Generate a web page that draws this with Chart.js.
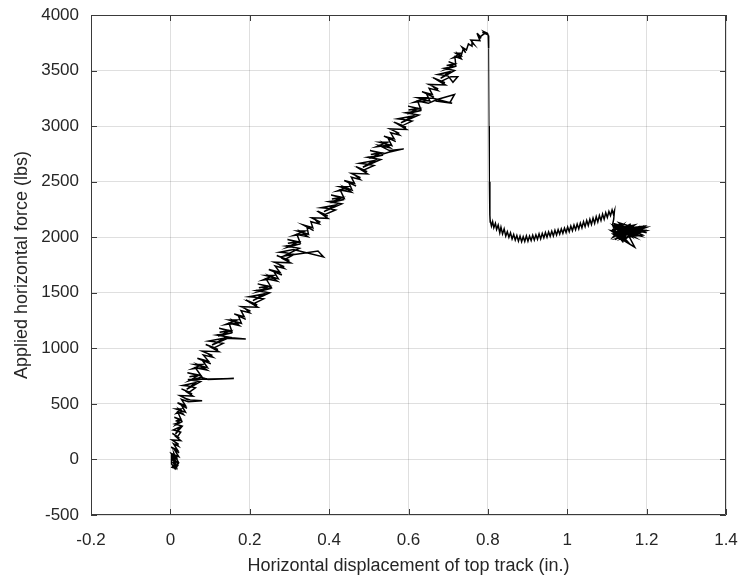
<!DOCTYPE html>
<html>
<head>
<meta charset="utf-8">
<script src="https://cdn.jsdelivr.net/npm/chart.js@4"></script>
<style>
  html, body { margin: 0; padding: 0; background: #fff; }
  #wrap { width: 743px; height: 586px; }
</style>
</head>
<body>
<div id="wrap"><canvas id="force"></canvas></div>
<script>
// tick values / labels
const xTicks = [-0.2, 0, 0.2, 0.4, 0.6, 0.8, 1.0, 1.2, 1.4];
const xTickLabels = ['-0.2', '0', '0.2', '0.4', '0.6', '0.8', '1', '1.2', '1.4'];
const yTicks = [-500, 0, 500, 1000, 1500, 2000, 2500, 3000, 3500, 4000];

// blob at the origin
const startX = [0.006,0.013,0.019,0.016,0.004,0.003,0.012,0.021,0.011,0.005,0.015,0.009,0.018,0.004,0.014,0.008];
const startY = [-20,-75,-55,25,45,-40,-85,-30,35,5,-60,55,-10,-70,-80,20];

// loading ramp (noisy), one line per ~100 lbs
const rampX = [
  0.002,0.021,0.009,0.022,0.002,0.018,0.008,0.020,0.013,
  0.021,0.004,0.026,0.011,0.023,0.005,0.018,0.026,0.013,
  0.007,0.023,0.013,0.030,0.011,0.030,0.013,0.024,0.013,
  0.025,0.010,0.028,0.019,0.033,0.023,0.032,0.015,0.027,
  0.014,0.038,0.027,0.042,0.018,0.038,0.028,0.045,0.080,0.050,0.036,
  0.046,0.024,0.057,0.038,0.055,0.028,0.048,0.063,0.045,
  0.031,0.063,0.041,0.076,0.044,0.160,0.095,0.078,0.048,0.070,0.048,
  0.071,0.043,0.078,0.063,0.092,0.072,0.088,0.055,0.081,
  0.061,0.094,0.080,0.102,0.068,0.096,0.083,0.107,0.095,
  0.106,0.080,0.122,0.099,0.120,0.089,0.111,0.133,0.111,
  0.097,0.134,0.190,0.140,0.105,0.150,0.117,0.156,0.120,0.148,0.124,
  0.149,0.123,0.155,0.148,0.174,0.159,0.173,0.139,0.168,
  0.148,0.179,0.171,0.190,0.161,0.186,0.178,0.200,0.191,
  0.202,0.178,0.220,0.199,0.219,0.190,0.211,0.235,0.214,
  0.198,0.235,0.208,0.250,0.216,0.255,0.220,0.247,0.223,
  0.247,0.220,0.254,0.241,0.269,0.251,0.266,0.233,0.260,
  0.240,0.272,0.260,0.281,0.248,0.276,0.264,0.287,0.276,
  0.287,0.261,0.303,0.279,0.300,0.268,0.291,0.312,0.290,
  0.275,0.310,0.386,0.372,0.335,0.285,0.325,0.291,0.328,0.295,0.320,0.296,
  0.321,0.295,0.327,0.319,0.346,0.330,0.344,0.310,0.339,
  0.320,0.348,0.344,0.361,0.335,0.359,0.354,0.375,0.367,
  0.378,0.356,0.397,0.379,0.397,0.371,0.390,0.416,0.395,
  0.379,0.416,0.387,0.432,0.399,0.438,0.403,0.431,0.407,
  0.431,0.405,0.438,0.428,0.456,0.439,0.453,0.420,0.448,
  0.427,0.458,0.449,0.468,0.438,0.464,0.456,0.478,0.468,
  0.479,0.456,0.497,0.477,0.496,0.468,0.488,0.513,0.492,
  0.477,0.514,0.485,0.530,0.497,0.536,0.501,0.529,0.505,
  0.529,0.503,0.536,0.550,0.588,0.552,0.527,0.554,0.538,0.552,0.519,0.547,
  0.527,0.558,0.548,0.568,0.538,0.564,0.555,0.577,0.567,
  0.577,0.553,0.595,0.574,0.594,0.564,0.585,0.609,0.587,
  0.573,0.610,0.581,0.626,0.593,0.632,0.596,0.624,0.600,
  0.625,0.599,0.631,0.623,0.650,0.672,0.716,0.705,0.668,0.710,0.662,0.634,0.648,0.614,0.643,
  0.623,0.654,0.645,0.664,0.634,0.660,0.652,0.674,0.664,
  0.675,0.651,0.693,0.672,0.692,0.662,0.683,0.707,0.724,0.712,0.700,0.685,
  0.674,0.704,0.681,0.716,0.690,0.721,0.693,0.715,0.696,
  0.715,0.701,0.719,0.717,0.733,0.725,0.733,0.712,0.731,
  0.719,0.732,0.738,0.744,0.735,0.746,0.751,0.760,0.760,
  0.765,0.757,0.780,0.775,0.783,0.773,0.781,0.792,0.786,0.795,0.790,0.799,0.801];
const rampY = [
  55,25,95,60,110,85,140,120,150,
  135,175,170,215,190,235,205,245,260,
  265,290,230,300,320,340,310,355,345,
  360,380,350,425,405,450,430,415,455,
  455,425,495,460,510,485,540,520,528,535,550,
  535,575,570,615,590,635,605,645,660,
  665,690,630,700,720,728,720,740,710,755,745,
  760,780,750,825,805,850,830,815,855,
  855,825,895,860,910,885,940,920,950,
  935,975,970,1015,990,1035,1005,1045,1060,
  1065,1090,1085,1100,1030,1100,1120,1140,1110,1155,1145,
  1160,1180,1150,1225,1205,1250,1230,1215,1255,
  1255,1225,1295,1260,1310,1285,1340,1320,1350,
  1335,1375,1370,1415,1390,1435,1405,1445,1460,
  1465,1490,1430,1500,1520,1540,1510,1555,1545,
  1560,1580,1550,1625,1605,1650,1630,1615,1655,
  1655,1625,1695,1660,1710,1685,1740,1720,1750,
  1735,1775,1770,1815,1790,1835,1805,1845,1860,
  1865,1890,1822,1876,1855,1830,1900,1920,1940,1910,1955,1945,
  1960,1980,1950,2025,2005,2050,2030,2015,2055,
  2055,2025,2095,2060,2110,2085,2140,2120,2150,
  2135,2175,2170,2215,2190,2235,2205,2245,2260,
  2265,2290,2230,2300,2320,2340,2310,2355,2345,
  2360,2380,2350,2425,2405,2450,2430,2415,2455,
  2455,2425,2495,2460,2510,2485,2540,2520,2550,
  2535,2575,2570,2615,2590,2635,2605,2645,2660,
  2665,2690,2630,2700,2720,2740,2710,2755,2745,
  2760,2780,2750,2765,2795,2780,2825,2805,2850,2830,2815,2855,
  2855,2825,2895,2860,2910,2885,2940,2920,2950,
  2935,2975,2970,3015,2990,3035,3005,3045,3060,
  3065,3090,3030,3100,3120,3140,3110,3155,3145,
  3160,3180,3150,3225,3205,3240,3285,3215,3225,3205,3250,3250,3230,3215,3255,
  3255,3225,3295,3260,3310,3285,3340,3320,3350,
  3335,3375,3370,3415,3390,3435,3405,3445,3445,3395,3450,3460,
  3465,3490,3430,3500,3520,3540,3510,3555,3545,
  3560,3580,3550,3625,3605,3650,3630,3615,3655,
  3655,3625,3695,3660,3710,3685,3740,3720,3750,
  3735,3775,3770,3815,3790,3835,3805,3835,3845,3830,3850,3835,3815];

// sudden drop after the peak
const dropX = [0.802, 0.803, 0.804, 0.805, 0.806];
const dropY = [3700, 3000, 2500, 2200, 2130];

// softening branch after the drop
const tailX = [0.806,0.809,0.812,0.815,0.819,0.822,0.826,0.83,0.833,0.837,0.841,0.845,0.849,0.853,0.857,0.861,
  0.865,0.869,0.873,0.877,0.881,0.885,0.889,0.893,0.897,0.901,0.905,0.909,0.913,0.917,0.921,0.925,0.929,0.933,
  0.937,0.941,0.945,0.949,0.953,0.957,0.961,0.965,0.969,0.973,0.977,0.981,0.985,0.989,0.993,0.997,1.001,1.005,
  1.009,1.013,1.017,1.021,1.025,1.029,1.033,1.037,1.041,1.045,1.049,1.053,1.057,1.061,1.065,1.069,1.073,1.077,
  1.081,1.085,1.089,1.093,1.097,1.101,1.105,1.109,1.113,1.116,1.119,1.117,1.114];
const tailY = [2150,2100,2140,2085,2125,2070,2110,2040,2090,2030,2075,2010,2050,2000,2040,1985,
  2025,1975,2015,1965,2010,1960,2005,1962,2012,1965,2010,1970,2018,1975,2022,1982,2030,1985,
  2035,1995,2042,2000,2048,2008,2055,2012,2062,2020,2068,2028,2075,2035,2082,2042,2092,2050,
  2100,2058,2110,2068,2118,2075,2128,2085,2140,2095,2150,2105,2162,2115,2172,2125,2185,2138,
  2195,2150,2208,2162,2220,2178,2232,2195,2245,2210,2240,2160,2110];

// scribble at the end of the test
const endX = [1.12,1.14,1.115,1.16,1.12,1.15,1.125,1.19,1.13,1.17,1.115,1.14,1.155,1.2,1.12,1.16,1.13,1.185,
  1.115,1.17,1.145,1.2,1.125,1.19,1.13,1.165,1.12,1.18,1.14,1.195,1.125,1.155,1.11,1.185,1.135,1.2,1.15,
  1.12,1.145,1.13,1.16,1.118,1.15,1.125,1.175,1.135,1.19,1.12,1.14,1.17,1.13,1.155,1.12];
const endY = [2060,2110,2000,2080,2120,1990,2090,2060,2010,2110,2070,1960,2100,2040,2100,2010,2130,2070,
  2030,1910,2080,2090,1990,2020,2120,2050,1980,2080,1970,2100,2070,1950,2060,2010,2100,2060,2020,
  2090,2000,2060,2120,2020,2070,2040,2090,1985,2050,2110,2040,2000,2090,2060,2040];

(function(){

    const textColor = '#262626';
    const fontFamily = '"Liberation Sans", Arial, Helvetica, sans-serif';

    const toPoints = (xs, ys) => xs.map((x, i) => ({ x, y: ys[i] }));

    const points = [
        ...toPoints(startX, startY),
        ...toPoints(rampX, rampY),
        ...toPoints(dropX, dropY),
        ...toPoints(tailX, tailY),
        ...toPoints(endX, endY)
    ];

    // the long vertical drop is a single thin trace in the original
    const segWidth = ctx => Math.abs(ctx.p1.parsed.y - ctx.p0.parsed.y) > 400 ? 1 : 1.5;

    // box round the plot and MATLAB style inward ticks
    const axesBox = {
        id: 'axesBox',
        afterDraw(chart) {
            const { ctx, chartArea: a, scales } = chart;
            const len = 6;
            ctx.save();
            ctx.strokeStyle = '#3a3a3a';
            ctx.lineWidth = 1;
            ctx.beginPath();
            ctx.rect(a.left + 0.5, a.top + 0.5, a.right - a.left - 1, a.bottom - a.top - 1);
            scales.x.ticks.forEach(t => {
                const px = Math.round(scales.x.getPixelForValue(t.value)) + 0.5;
                ctx.moveTo(px, a.bottom); ctx.lineTo(px, a.bottom - len);
                ctx.moveTo(px, a.top); ctx.lineTo(px, a.top + len);
            });
            scales.y.ticks.forEach(t => {
                const py = Math.round(scales.y.getPixelForValue(t.value)) + 0.5;
                ctx.moveTo(a.left, py); ctx.lineTo(a.left + len, py);
                ctx.moveTo(a.right, py); ctx.lineTo(a.right - len, py);
            });
            ctx.stroke();
            ctx.restore();
        }
    };

    new Chart(document.getElementById('force'), {
        type: 'scatter',
        data: {
            datasets: [{
                data: points,
                showLine: true,
                borderColor: '#000',
                borderWidth: 1.5,
                segment: { borderWidth: segWidth },
                pointRadius: 0,
                tension: 0
            }]
        },
        options: {
            responsive: true,
            maintainAspectRatio: false,
            animation: false,
            layout: { padding: { top: 15, right: 17, left: 11, bottom: 9 } },
            plugins: { legend: { display: false }, tooltip: { enabled: false } },
            scales: {
                x: {
                    type: 'linear',
                    min: -0.2,
                    max: 1.4,
                    afterBuildTicks: s => { s.ticks = xTicks.map(v => ({ value: v })); },
                    afterFit: s => { s.height = 62; s.paddingLeft = 0; s.paddingRight = 0; },
                    border: { display: false },
                    grid: { color: 'rgba(38,38,38,0.15)', drawTicks: false },
                    ticks: {
                        padding: 15,
                        color: textColor,
                        font: { family: fontFamily, size: 17 },
                        callback: (v, i) => xTickLabels[i]
                    },
                    title: {
                        display: true,
                        text: 'Horizontal displacement of top track (in.)',
                        color: textColor,
                        padding: 0,
                        font: { family: fontFamily, size: 18 }
                    }
                },
                y: {
                    type: 'linear',
                    min: -500,
                    max: 4000,
                    afterBuildTicks: s => { s.ticks = yTicks.map(v => ({ value: v })); },
                    afterFit: s => { s.width = 80; s.paddingTop = 0; s.paddingBottom = 0; },
                    border: { display: false },
                    grid: { color: 'rgba(38,38,38,0.15)', drawTicks: false },
                    ticks: {
                        padding: 12,
                        color: textColor,
                        font: { family: fontFamily, size: 17 },
                        callback: v => String(v)
                    },
                    title: {
                        display: true,
                        text: 'Applied horizontal force (lbs)',
                        color: textColor,
                        padding: 0,
                        font: { family: fontFamily, size: 18 }
                    }
                }
            }
        },
        plugins: [axesBox]
    });
})()
</script>
</body>
</html>
